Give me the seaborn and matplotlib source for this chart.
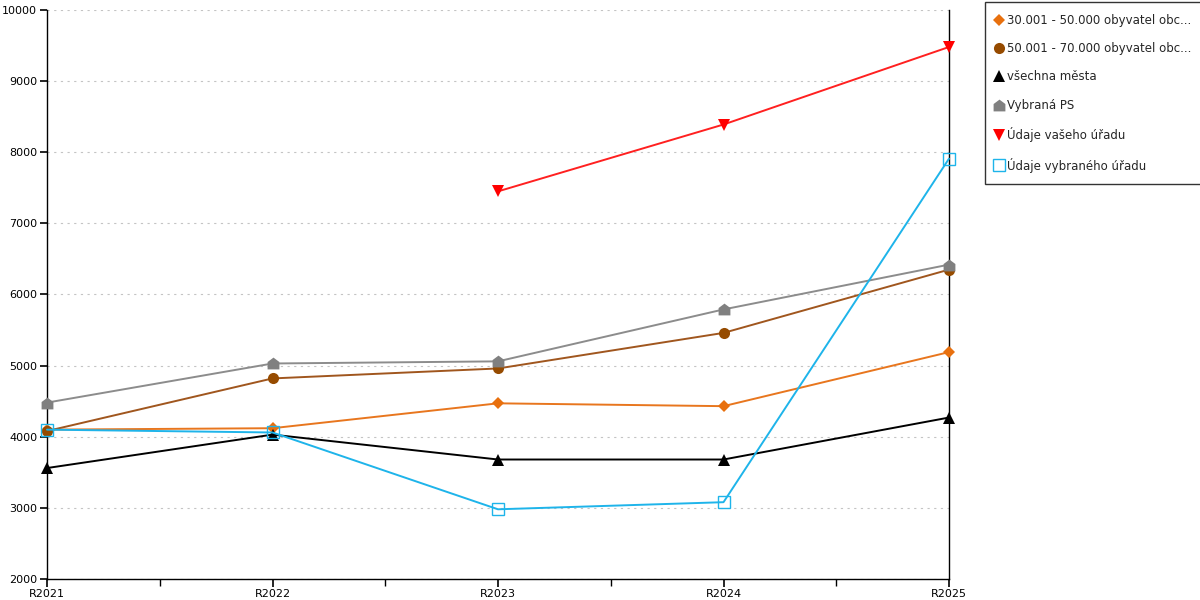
import numpy as np
import pandas as pd
import matplotlib
matplotlib.use("Agg")
import matplotlib.pyplot as plt
from matplotlib.path import Path
from matplotlib.lines import Line2D
import seaborn as sns

# DATA
years = ["R2021", "R2022", "R2023", "R2024", "R2025"]
obce_30_50 = [4100, 4120, 4470, 4430, 5190]
obce_50_70 = [4080, 4820, 4960, 5460, 6350]
vsechna_mesta = [3560, 4030, 3680, 3680, 4270]
vybrana_ps = [4480, 5030, 5060, 5790, 6420]
vas_urad = [np.nan, np.nan, 7450, 8390, 9480]
vybrany_urad = [4100, 4060, 2980, 3080, 7910]

labels = ["30.001 - 50.000 obyvatel obc...", "50.001 - 70.000 obyvatel obc...",
          "všechna města", "Vybraná PS", "Údaje vašeho úřadu", "Údaje vybraného úřadu"]

# house shaped marker
house = Path([(-1, -1), (1, -1), (1, 0.25), (0, 1), (-1, 0.25), (-1, -1)],
             [Path.MOVETO, Path.LINETO, Path.LINETO, Path.LINETO, Path.LINETO, Path.CLOSEPOLY])

styles = [
    dict(color="#E8761E", marker="D", ms=6, mfc="#E8700E"),
    dict(color="#A0561E", marker="o", ms=8, mfc="#964B00"),
    dict(color="#000000", marker="^", ms=8.5, mfc="#000000"),
    dict(color="#8C8C8C", marker=house, ms=8.5, mfc="#808080"),
    dict(color="#FF2020", marker="v", ms=8.5, mfc="#FF0000"),
    dict(color="#1EB4EA", marker="s", ms=8, mfc="none"),
]
series = [obce_30_50, obce_50_70, vsechna_mesta, vybrana_ps, vas_urad, vybrany_urad]

sns.set_style("white", {"xtick.bottom": True, "ytick.left": True,
                        "xtick.color": "black", "ytick.color": "black"})
plt.rcParams['font.family'] = ['DejaVu Sans']

fig = plt.figure(figsize=(12, 6), dpi=100)
ax = fig.add_axes([47/1200, 21/600, (949-47)/1200, (579-10)/600])

x = np.arange(len(years))
for vals, lab, st in zip(series, labels, styles):
    df = pd.DataFrame({"x": x, "y": vals}).dropna()
    sns.lineplot(data=df, x="x", y="y", ax=ax, color=st["color"], lw=1.4,
                 marker=st["marker"], markersize=st["ms"], markerfacecolor=st["mfc"],
                 markeredgecolor=st["mfc"] if st["mfc"] != "none" else st["color"],
                 markeredgewidth=1.0 if st["mfc"] == "none" else 0, label=lab,
                 legend=False, clip_on=False, zorder=3)

ax.set_xlim(0, 4)
ax.set_ylim(2000, 10000)
ax.set_xticks(x)
ax.set_xticklabels(years)
ax.set_xticks([0.5, 1.5, 2.5, 3.5], minor=True)
ax.set_yticks(range(2000, 10001, 1000))
ax.set_xlabel("")
ax.set_ylabel("")
ax.tick_params(axis="x", which="major", direction="out", length=6, width=1.2,
               labelsize=8, pad=1.5, bottom=True)
ax.tick_params(axis="x", which="minor", direction="out", length=5, width=1, bottom=True)
ax.tick_params(axis="y", which="major", direction="out", length=5, width=1.2,
               labelsize=8, pad=2, left=True)
ax.grid(axis="y", color="#C4C4C4", linestyle=(0, (2, 4)), linewidth=0.8)
ax.set_axisbelow(True)
for s in ["left", "bottom", "right"]:
    ax.spines[s].set_color("black")
    ax.spines[s].set_linewidth(1)
ax.spines["top"].set_visible(False)

handles = [Line2D([], [], linestyle="none", marker=st["marker"], markersize=st["ms"],
                  markerfacecolor=st["mfc"],
                  markeredgecolor=st["mfc"] if st["mfc"] != "none" else st["color"],
                  markeredgewidth=1.0 if st["mfc"] == "none" else 0) for st in styles]
leg = fig.legend(handles, labels, loc="upper left", bbox_to_anchor=(985/1200, 1 - 2/600),
                 frameon=True, fancybox=False, fontsize=8.5, handlelength=0.3,
                 handletextpad=0.6, labelspacing=1.3, borderpad=1.0, borderaxespad=0)
leg.get_frame().set_edgecolor("black")
leg.get_frame().set_linewidth(1)

fig.savefig("out.png", dpi=100)
plt.close()
